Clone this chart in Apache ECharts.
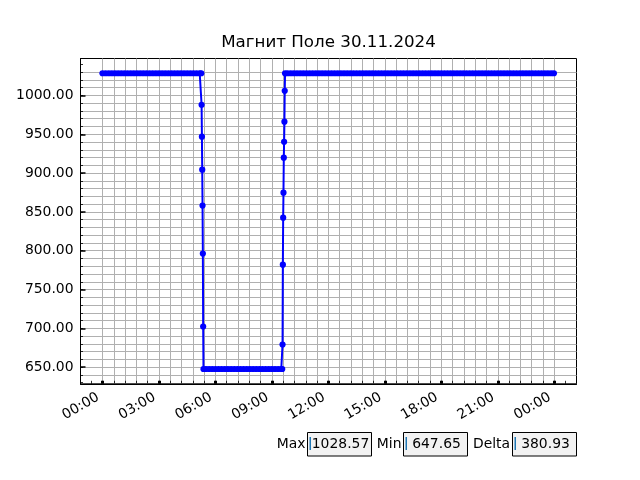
<!DOCTYPE html>
<html>
<head>
<meta charset="utf-8">
<script src="https://cdn.jsdelivr.net/npm/echarts@6/dist/echarts.min.js"></script>
<style>html,body{margin:0;padding:0;background:#fff}#c{width:640px;height:480px}</style>
</head>
<body>
<div id="c"></div>
<script>
// time in minutes from 00:00 of 30.11.2024
const high1Times = [0,10,20,30,40,50,60,70,80,90,
  100,110,120,130,140,150,160,170,180,190,
  200,210,220,230,240,250,260,270,280,290,
  300,310,315];
const high1Values = [1028.57,1028.57,1028.57,1028.57,1028.57,1028.57,1028.57,1028.57,1028.57,1028.57,
  1028.57,1028.57,1028.57,1028.57,1028.57,1028.57,1028.57,1028.57,1028.57,1028.57,
  1028.57,1028.57,1028.57,1028.57,1028.57,1028.57,1028.57,1028.57,1028.57,1028.57,
  1028.57,1028.57,1028.57];
const dropTimes = [316,317,318,319,320,321];
const dropValues = [988.0,946.9,904.4,858.1,796.3,702.4];
const lowTimes = [322,330,340,350,360,370,380,390,400,410,
  420,430,440,450,460,470,480,490,500,510,
  520,530,540,550,560,570,573];
const lowValues = [647.65,647.65,647.65,647.65,647.65,647.65,647.65,647.65,647.65,647.65,
  647.65,647.65,647.65,647.65,647.65,647.65,647.65,647.65,647.65,647.65,
  647.65,647.65,647.65,647.65,647.65,647.65,647.65];
const riseTimes = [574,575,576,577,578,579,580,581];
const riseValues = [679.2,782.1,842.6,874.8,919.8,940.4,966.2,1006.0];
const high2Times = [582,590,600,610,620,630,640,650,660,670,
  680,690,700,710,720,730,740,750,760,770,
  780,790,800,810,820,830,840,850,860,870,
  880,890,900,910,920,930,940,950,960,970,
  980,990,1000,1010,1020,1030,1040,1050,1060,1070,
  1080,1090,1100,1110,1120,1130,1140,1150,1160,1170,
  1180,1190,1200,1210,1220,1230,1240,1250,1260,1270,
  1280,1290,1300,1310,1320,1330,1340,1350,1360,1370,
  1380,1390,1400,1410,1420,1430,1439];
const high2Values = [1028.57,1028.57,1028.57,1028.57,1028.57,1028.57,1028.57,1028.57,1028.57,1028.57,
  1028.57,1028.57,1028.57,1028.57,1028.57,1028.57,1028.57,1028.57,1028.57,1028.57,
  1028.57,1028.57,1028.57,1028.57,1028.57,1028.57,1028.57,1028.57,1028.57,1028.57,
  1028.57,1028.57,1028.57,1028.57,1028.57,1028.57,1028.57,1028.57,1028.57,1028.57,
  1028.57,1028.57,1028.57,1028.57,1028.57,1028.57,1028.57,1028.57,1028.57,1028.57,
  1028.57,1028.57,1028.57,1028.57,1028.57,1028.57,1028.57,1028.57,1028.57,1028.57,
  1028.57,1028.57,1028.57,1028.57,1028.57,1028.57,1028.57,1028.57,1028.57,1028.57,
  1028.57,1028.57,1028.57,1028.57,1028.57,1028.57,1028.57,1028.57,1028.57,1028.57,
  1028.57,1028.57,1028.57,1028.57,1028.57,1028.57,1028.57];

const xMajorTicks = [0,180,360,540,720,900,1080,1260,1440];
const xMinorTicks = [-36,0,36,72,108,144,180,216,252,288,324,360,396,432,468,504,540,576,612,648,
  684,720,756,792,828,864,900,936,972,1008,1044,1080,1116,1152,1188,1224,1260,1296,1332,1368,
  1404,1440,1476];
const yMinorTicks = [630,640,650,660,670,680,690,700,710,720,730,740,750,760,770,780,790,800,
  810,820,830,840,850,860,870,880,890,900,910,920,930,940,950,960,970,980,990,1000,1010,1020,1030,1040];
const yMajorTicks = [650,700,750,800,850,900,950,1000];
const titleText = 'Магнит Поле 30.11.2024';
const statLabels = ['Max','Min','Delta'];
const statValues = ['1028.57','647.65','380.93'];

const allTimes = high1Times.concat(dropTimes, lowTimes, riseTimes, high2Times);
const allValues = high1Values.concat(dropValues, lowValues, riseValues, high2Values);
const seriesData = allTimes.map((t, i) => [t, allValues[i]]);

function fmtTime(v) {
  const m = ((Math.round(v) % 1440) + 1440) % 1440;
  const h = Math.floor(m / 60), mm = m % 60;
  return String(h).padStart(2, '0') + ':' + String(mm).padStart(2, '0');
}

const FONT = 'DejaVu Sans';
const FS = 13.9;

const chart = echarts.init(document.getElementById('c'), null, {renderer: 'canvas'});

const graphics = [
  {type: 'text', x: 328.5, y: 42.5,
   style: {text: titleText, font: '16.7px "' + FONT + '"', fill: '#000', align: 'center', verticalAlign: 'middle'}}
];
const boxes = [
  {labelRight: 305.5, x0: 307.5, x1: 371.5},
  {labelRight: 401.5, x0: 403.5, x1: 467.5},
  {labelRight: 510, x0: 512.5, x1: 576.5}
];
boxes.forEach((b, i) => {
  graphics.push({type: 'text', x: b.labelRight, y: 444,
    style: {text: statLabels[i], font: FS + 'px "' + FONT + '"', fill: '#000', align: 'right', verticalAlign: 'middle'}});
  graphics.push({type: 'rect', shape: {x: b.x0, y: 432.5, width: b.x1 - b.x0, height: 23.5},
    style: {fill: '#f2f2f2', stroke: '#000', lineWidth: 1}});
  graphics.push({type: 'rect', shape: {x: b.x0 + 2, y: 437, width: 1.5, height: 13},
    style: {fill: '#1f77b4'}});
  graphics.push({type: 'text', x: (b.x0 + b.x1) / 2 + 1, y: 444,
    style: {text: statValues[i], font: FS + 'px "' + FONT + '"', fill: '#000', align: 'center', verticalAlign: 'middle'}});
});

const option = {
  animation: false,
  backgroundColor: '#fff',
  textStyle: {fontFamily: FONT},
  grid: {left: 80.5, right: 63.5, top: 58.5, bottom: 96.2, show: true, borderColor: '#000', borderWidth: 1, backgroundColor: 'transparent', containLabel: false},
  xAxis: [
    {type: 'value', min: -70, max: 1511, position: 'bottom',
     axisLine: {show: true, onZero: false, lineStyle: {color: '#000', width: 1}},
     axisTick: {show: true, inside: true, length: 3, customValues: xMinorTicks, lineStyle: {color: '#000', width: 0.8}},
     axisLabel: {show: true, customValues: xMajorTicks, formatter: fmtTime, rotate: 30, margin: 10,
       padding: [0, 5, 0, 0],
       color: '#000', fontSize: FS, fontFamily: FONT},
     splitLine: {show: true, showMinLine: false, showMaxLine: false, lineStyle: {color: '#b0b0b0', width: 1}},
     minorTick: {show: false}},
    {type: 'value', min: -70, max: 1511, position: 'bottom', offset: 0,
     axisLine: {show: false, onZero: false},
     axisTick: {show: true, inside: true, length: 3, customValues: xMajorTicks, lineStyle: {color: '#000', width: 3}},
     axisLabel: {show: false},
     splitLine: {show: false}}
  ],
  yAxis: [
    {type: 'value', min: 628.6, max: 1047.6, position: 'left',
     axisLine: {show: true, onZero: false, lineStyle: {color: '#000', width: 1}},
     axisTick: {show: true, inside: true, length: 2.5, customValues: yMinorTicks, lineStyle: {color: '#000', width: 0.8}},
     axisLabel: {show: true, customValues: yMajorTicks, formatter: v => Number(v).toFixed(2), margin: 7,
       color: '#000', fontSize: FS, fontFamily: FONT},
     splitLine: {show: true, showMinLine: false, showMaxLine: false, lineStyle: {color: '#b0b0b0', width: 1}}},
    {type: 'value', min: 628.6, max: 1047.6, position: 'left', offset: 0,
     axisLine: {show: false, onZero: false},
     axisTick: {show: true, inside: true, length: 5, customValues: yMajorTicks, lineStyle: {color: '#000', width: 1.5}},
     axisLabel: {show: false},
     splitLine: {show: false}}
  ],
  series: [{
    type: 'line', xAxisIndex: 0, yAxisIndex: 0, data: seriesData,
    showSymbol: true, showAllSymbol: true, symbol: 'circle', symbolSize: 6.2,
    sampling: 'none',
    lineStyle: {color: '#0000ff', width: 2},
    itemStyle: {color: '#0000ff'},
    emphasis: {disabled: true}
  }],
  graphic: graphics
};
chart.setOption(option);
</script>
</body>
</html>
